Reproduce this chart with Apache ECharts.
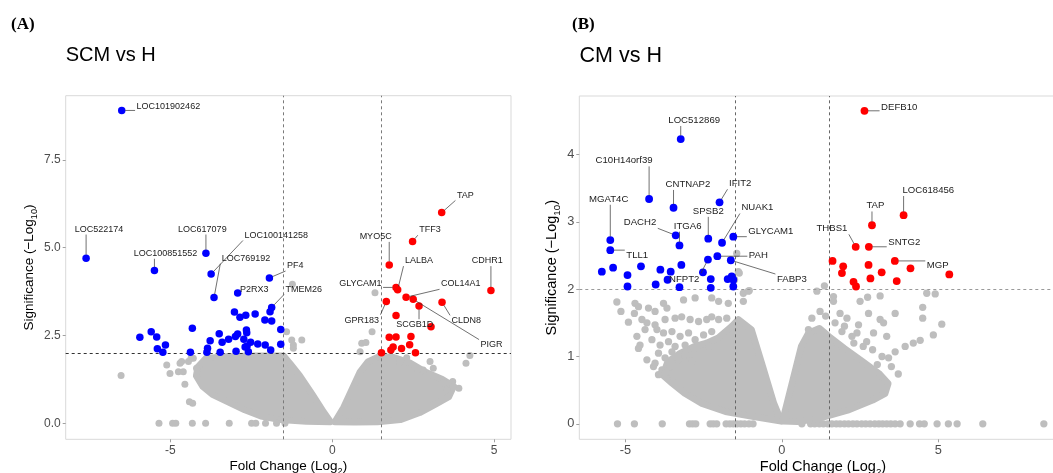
<!DOCTYPE html>
<html>
<head>
<meta charset="utf-8">
<script src="https://cdn.jsdelivr.net/npm/echarts@6/dist/echarts.min.js"></script>
<style>
  html, body { margin: 0; padding: 0; background: #fff; }
  #chart { width: 1053px; height: 473px; }
</style>
</head>
<body>
<div id="chart"></div>
<script>
// thresholds
const fcCut = 1.5;
const sigCut = 2;
const xTicks = [-5, 0, 5];
const yTicksA = [0, 2.5, 5, 7.5];
const yTicksB = [0, 1, 2, 3, 4];

// ---- panel A : SCM vs H ----
const downA = [
  [-6.50, 8.91], [-7.60, 4.70], [-5.49, 4.35], [-3.90, 4.84], [-3.74, 4.25], [-3.65, 3.58], [-1.94, 4.14],
  [-2.92, 3.71], [-1.87, 3.30], [-1.92, 3.18], [-3.02, 3.17], [-2.85, 3.02], [-2.67, 3.08], [-2.38, 3.11],
  [-2.08, 2.94], [-1.87, 2.91], [-1.59, 2.67], [-4.32, 2.71], [-5.59, 2.61], [-5.94, 2.45], [-5.42, 2.46],
  [-5.40, 2.12], [-5.15, 2.23], [-5.23, 2.02], [-4.38, 2.02], [-3.85, 2.14], [-3.77, 2.35], [-3.87, 2.02],
  [-3.49, 2.55], [-3.40, 2.31], [-3.46, 2.02], [-3.20, 2.39], [-2.99, 2.47], [-2.92, 2.54], [-2.97, 2.05],
  [-2.73, 2.39], [-2.65, 2.66], [-2.64, 2.58], [-2.52, 2.31], [-2.69, 2.17], [-2.63, 2.20], [-2.59, 2.04],
  [-2.30, 2.26], [-2.07, 2.23], [-1.90, 2.09], [-1.59, 2.25]
];
const upA = [
  [3.38, 6.00], [2.48, 5.18], [1.76, 4.51], [2.02, 3.80], [1.97, 3.87], [2.28, 3.59], [4.90, 3.78],
  [2.50, 3.53], [3.39, 3.45], [2.68, 3.34], [1.67, 3.47], [1.97, 3.07], [3.05, 2.75], [1.76, 2.45],
  [1.97, 2.46], [2.43, 2.47], [2.39, 2.24], [2.14, 2.13], [1.88, 2.17], [1.81, 2.09], [1.52, 2.01], [2.57, 2.01]
];
const greyA = [
  [-6.52, 1.36], [-5.11, 1.66], [-5.01, 1.42], [-4.70, 1.71], [-4.75, 1.47], [-4.65, 1.76], [-4.44, 1.76],
  [-4.36, 1.85], [-4.29, 1.85], [-4.60, 1.47], [-4.55, 1.11], [-4.41, 0.61], [-4.31, 0.57], [-4.19, 1.57],
  [-5.35, 0], [-4.93, 0], [-4.83, 0], [-4.32, 0], [-3.91, 0], [-3.18, 0], [-2.49, 0], [-2.36, 0], [-2.06, 0],
  [-1.72, 0], [-1.46, 0],
  [-1.41, 2.61], [-1.20, 2.23], [-1.25, 2.37], [-1.23, 3.96], [-0.94, 2.37], [-1.20, 2.14],
  [1.32, 3.72], [1.23, 2.61], [0.91, 2.28], [0.86, 2.04], [1.04, 2.30],
  [4.25, 1.93], [4.13, 1.71], [3.91, 1.00], [3.72, 1.19], [3.73, 1.04], [3.53, 0.95], [3.43, 1.14],
  [3.12, 1.57], [3.02, 1.76], [2.81, 1.52], [2.65, 1.54], [2.09, 1.73], [2.30, 1.87]
];
// outline of the dense grey cloud (dot centres)
const lobesA = [
  [[-0.05, 0.04], [-0.8, 0.05], [-1.6, 0.1], [-2.2, 0.2], [-2.7, 0.38], [-3.2, 0.6], [-3.7, 0.82], [-4.0, 1.05],
   [-4.2, 1.35], [-4.15, 1.6], [-3.9, 1.85], [-3.3, 1.9], [-2.4, 1.92], [-1.5, 1.92], [-1.3, 1.7], [-1.0, 1.35],
   [-0.6, 0.8], [-0.25, 0.3]],
  [[0.08, 0.04], [0.35, 0.45], [0.6, 0.95], [0.85, 1.45], [1.1, 1.75], [1.45, 1.9], [1.9, 1.88], [2.4, 1.72],
   [2.9, 1.45], [3.4, 1.25], [3.75, 1.05], [3.6, 0.75], [3.2, 0.55], [2.7, 0.3], [2.1, 0.1], [1.4, 0.04], [0.7, 0.03]]
];
// [gene, x, y, label x, label y]
const labelsA = [
  ['LOC101902462', -6.50, 8.91, -5.06, 9.03],
  ['LOC522174', -7.60, 4.70, -7.20, 5.53],
  ['LOC617079', -3.90, 4.84, -4.01, 5.53],
  ['LOC100141258', -3.74, 4.25, -1.73, 5.36],
  ['LOC100851552', -5.49, 4.35, -5.15, 4.84],
  ['LOC769192', -3.65, 3.58, -2.66, 4.70],
  ['PF4', -1.94, 4.14, -1.14, 4.49],
  ['P2RX3', -2.92, 3.71, -2.41, 3.80],
  ['TMEM26', -1.87, 3.30, -0.88, 3.82],
  ['TAP', 3.38, 6.00, 4.11, 6.50],
  ['TFF3', 2.48, 5.18, 3.02, 5.51],
  ['MYO5C', 1.76, 4.51, 1.34, 5.32],
  ['LALBA', 2.02, 3.80, 2.68, 4.63],
  ['CDHR1', 4.90, 3.78, 4.79, 4.63],
  ['GLYCAM1', 1.97, 3.87, 0.87, 3.99],
  ['COL14A1', 2.28, 3.59, 3.97, 3.97],
  ['GPR183', 1.67, 3.47, 0.91, 2.94],
  ['SCGB1D', 2.68, 3.34, 2.55, 2.81],
  ['CLDN8', 3.39, 3.45, 4.14, 2.92],
  ['PIGR', 2.50, 3.53, 4.92, 2.23]
];

// ---- panel B : CM vs H ----
const downB = [
  [-3.23, 4.23], [-4.24, 3.34], [-3.46, 3.21], [-1.99, 3.29], [-5.48, 2.73], [-2.35, 2.75], [-1.91, 2.69],
  [-3.39, 2.80], [-3.27, 2.65], [-1.55, 2.78], [-5.48, 2.58], [-2.06, 2.49], [-1.63, 2.43], [-2.36, 2.44],
  [-5.75, 2.26], [-5.39, 2.32], [-4.93, 2.21], [-4.93, 2.04], [-4.50, 2.34], [-4.03, 2.07], [-3.88, 2.29],
  [-3.65, 2.14], [-3.55, 2.26], [-3.21, 2.36], [-3.27, 2.03], [-2.27, 2.15], [-2.27, 2.02], [-1.73, 2.15],
  [-1.60, 2.19], [-1.55, 2.04], [-1.55, 2.14], [-2.52, 2.25]
];
const upB = [
  [2.64, 4.65], [3.89, 3.10], [2.88, 2.95], [2.36, 2.63], [2.78, 2.63], [3.61, 2.42], [1.62, 2.42],
  [1.96, 2.34], [1.92, 2.24], [2.77, 2.36], [3.19, 2.25], [4.11, 2.31], [5.35, 2.22], [2.29, 2.11],
  [2.37, 2.04], [2.83, 2.16], [3.67, 2.12]
];
const greyB = [
  [-5.27, 1.81], [-5.14, 1.67], [-4.69, 1.79], [-4.58, 1.74], [-4.71, 1.64], [-4.26, 1.72], [-4.05, 1.67],
  [-3.78, 1.79], [-3.67, 1.72], [-3.14, 1.84], [-2.77, 1.87], [-2.24, 1.87], [-2.02, 1.82], [-1.71, 1.79],
  [-1.23, 1.82], [-1.23, 1.94], [-1.07, 1.97],
  [-4.90, 1.51], [-4.47, 1.55], [-4.31, 1.50], [-4.05, 1.47], [-3.73, 1.55], [-3.41, 1.57], [-3.20, 1.59],
  [-2.93, 1.55], [-2.66, 1.52], [-2.40, 1.55], [-2.24, 1.59], [-2.02, 1.55], [-1.76, 1.57],
  [-4.63, 1.30], [-4.37, 1.40], [-3.99, 1.40], [-4.15, 1.25], [-3.78, 1.35], [-3.51, 1.37], [-3.25, 1.30],
  [-2.98, 1.35], [-2.77, 1.25], [-2.50, 1.32], [-2.24, 1.37], [-4.53, 1.17], [-3.89, 1.17], [-3.62, 1.22],
  [-3.41, 1.15], [-3.09, 1.17], [-2.82, 1.12], [-2.34, 1.15],
  [-4.58, 1.12], [-4.31, 0.95], [-4.10, 0.85], [-3.94, 1.05], [-3.73, 0.98], [-3.51, 1.07], [-3.30, 0.95],
  [-3.09, 1.03], [-3.83, 0.80], [-3.57, 0.85], [-4.05, 0.90], [-2.88, 0.93], [-3.73, 0.75], [-3.46, 0.70],
  [-3.94, 0.73],
  [-5.25, 0], [-4.71, 0], [-3.82, 0], [-2.95, 0], [-2.85, 0], [-2.75, 0], [-2.29, 0], [-2.19, 0], [-2.08, 0],
  [-1.78, 0], [-1.66, 0], [-1.55, 0], [-1.43, 0], [-1.31, 0], [-1.19, 0], [-1.05, 0], [-0.92, 0],
  [-1.44, 2.53], [-1.39, 2.26], [-1.36, 2.24], [-1.51, 2.14], [-1.04, 1.98],
  [1.12, 1.97], [1.36, 2.05], [1.65, 1.89], [1.65, 1.82], [2.50, 1.82], [2.74, 1.88], [3.14, 1.90],
  [4.63, 1.94], [4.90, 1.93], [4.50, 1.73], [4.50, 1.57], [5.11, 1.48], [4.84, 1.32], [4.42, 1.24],
  [4.20, 1.20], [3.94, 1.15], [3.62, 1.07], [3.72, 0.74], [3.41, 0.98], [3.62, 1.64], [3.14, 1.55],
  [3.25, 1.50], [1.86, 1.64], [2.08, 1.57], [2.77, 1.64], [2.45, 1.47], [2.40, 1.35], [2.24, 1.30],
  [1.92, 1.37], [2.71, 1.22], [2.93, 1.35], [3.35, 1.30], [1.22, 1.67], [0.85, 1.40], [0.96, 1.57],
  [2.90, 1.10], [3.20, 1.00], [2.60, 1.15], [3.05, 0.88], [3.50, 0.85], [2.30, 1.20], [1.70, 1.50],
  [2.00, 1.45], [1.40, 1.60],
  [0.64, 0], [0.92, 0], [1.05, 0], [1.20, 0], [1.33, 0], [1.47, 0], [1.60, 0], [1.74, 0], [1.86, 0],
  [2.00, 0], [2.13, 0], [2.27, 0], [2.40, 0], [2.55, 0], [2.68, 0], [2.82, 0], [2.97, 0], [3.10, 0],
  [3.22, 0], [3.35, 0], [3.48, 0], [3.62, 0], [3.78, 0], [4.10, 0], [4.40, 0], [4.55, 0], [4.96, 0],
  [5.32, 0], [5.60, 0], [6.42, 0], [8.37, 0]
];
const lobesB = [
  [[-0.02, 0.04], [-0.85, 0.1], [-1.8, 0.18], [-2.55, 0.3], [-3.1, 0.45], [-3.5, 0.6], [-3.8, 0.72],
   [-3.65, 0.92], [-3.25, 1.05], [-2.8, 1.15], [-2.4, 1.2], [-2.03, 1.28], [-1.6, 1.45], [-1.39, 1.55],
   [-0.97, 1.4], [-0.64, 0.9], [-0.25, 0.3]],
  [[0.02, 0.04], [0.35, 0.65], [0.62, 1.15], [0.85, 1.35], [1.2, 1.42], [1.5, 1.3], [2.0, 1.12], [2.6, 0.92],
   [3.1, 0.75], [3.4, 0.6], [3.3, 0.45], [2.9, 0.35], [2.1, 0.2], [1.2, 0.08], [0.5, 0.03]]
];
const labelsB = [
  ['LOC512869', -3.23, 4.23, -2.80, 4.51],
  ['C10H14orf39', -4.24, 3.34, -5.04, 3.91],
  ['CNTNAP2', -3.46, 3.21, -3.00, 3.56],
  ['IFIT2', -1.99, 3.29, -1.33, 3.57],
  ['MGAT4C', -5.48, 2.73, -5.53, 3.34],
  ['SPSB2', -2.35, 2.75, -2.35, 3.16],
  ['NUAK1', -1.91, 2.69, -0.78, 3.21],
  ['DACH2', -3.39, 2.80, -4.53, 2.99],
  ['ITGA6', -3.27, 2.65, -3.01, 2.94],
  ['GLYCAM1', -1.55, 2.78, -0.35, 2.86],
  ['TLL1', -5.48, 2.58, -4.62, 2.51],
  ['PAH', -2.06, 2.49, -0.75, 2.51],
  ['FABP3', -1.63, 2.43, 0.32, 2.14],
  ['NFPT2', -2.36, 2.44, -3.12, 2.15],
  ['DEFB10', 2.64, 4.65, 3.75, 4.70],
  ['LOC618456', 3.89, 3.10, 4.68, 3.47],
  ['TAP', 2.88, 2.95, 2.99, 3.24],
  ['THBS1', 2.36, 2.63, 1.60, 2.90],
  ['SNTG2', 2.78, 2.63, 3.91, 2.69],
  ['MGP', 3.61, 2.42, 4.98, 2.35]
];

const GREY = '#bebebe';
const FONT = '"Liberation Sans", Arial, sans-serif';
const measure = document.createElement('canvas').getContext('2d');
function textWidth(t, size) {
  measure.font = size + 'px ' + FONT;
  return measure.measureText(t).width;
}

function xAxis(idx, min, max, fs) {
  return {
    type: 'value', gridIndex: idx, min: min, max: max, position: 'bottom',
    axisLine: { show: false, onZero: false }, splitLine: { show: false },
    axisTick: { show: true, length: 3, customValues: xTicks, lineStyle: { color: '#a0a0a0' } },
    axisLabel: { customValues: xTicks, color: '#4d4d4d', fontSize: fs, fontFamily: FONT, margin: 5 }
  };
}
function yAxis(idx, min, max, ticks, fs, digits) {
  return {
    type: 'value', gridIndex: idx, min: min, max: max, position: 'left',
    axisLine: { show: false, onZero: false }, splitLine: { show: false },
    axisTick: { show: true, length: 3, customValues: ticks, lineStyle: { color: '#a0a0a0' } },
    axisLabel: {
      customValues: ticks, color: '#4d4d4d', fontSize: fs, fontFamily: FONT, margin: 5,
      formatter: (v) => v.toFixed(digits)
    }
  };
}

function lobeSeries(lobes, idx) {
  return {
    type: 'custom', xAxisIndex: idx, yAxisIndex: idx, z: 1, silent: true,
    data: lobes.map((l, i) => [l[0][0], l[0][1], i]),
    renderItem(params, api) {
      const lobe = lobes[api.value(2)];
      return {
        type: 'polygon',
        shape: { points: lobe.map((p) => api.coord(p)) },
        style: { fill: GREY, stroke: GREY, lineWidth: 6.6, lineJoin: 'round' }
      };
    }
  };
}

function dots(data, idx, color, size, z) {
  return {
    type: 'scatter', xAxisIndex: idx, yAxisIndex: idx, data: data, z: z, silent: true,
    symbolSize: size, itemStyle: { color: color, opacity: 1 }
  };
}

function cutLines(idx, vColor, hColor) {
  return {
    type: 'scatter', xAxisIndex: idx, yAxisIndex: idx, data: [], z: 3, silent: true,
    markLine: {
      silent: true, symbol: ['none', 'none'], label: { show: false }, animation: false, z: 3,
      lineStyle: { type: [3, 3], width: 1 },
      emphasis: { disabled: true },
      data: [
        { xAxis: -fcCut, lineStyle: { color: vColor } },
        { xAxis: fcCut, lineStyle: { color: vColor } },
        { yAxis: sigCut, lineStyle: { color: hColor } }
      ]
    }
  };
}

function labelSeries(labels, idx, size) {
  return {
    type: 'custom', xAxisIndex: idx, yAxisIndex: idx, z: 8, silent: true,
    data: labels.map((l, i) => [l[1], l[2], i]),
    renderItem(params, api) {
      const l = labels[api.value(2)];
      const p = api.coord([l[1], l[2]]);
      const c = api.coord([l[3], l[4]]);
      const hw = textWidth(l[0], size) / 2 + 1.5;
      const hh = size * 0.6;
      const qx = Math.min(Math.max(p[0], c[0] - hw), c[0] + hw);
      const qy = Math.min(Math.max(p[1], c[1] - hh), c[1] + hh);
      const dx = qx - p[0], dy = qy - p[1];
      const d = Math.hypot(dx, dy);
      const kids = [];
      if (d > 7) {
        kids.push({
          type: 'line',
          shape: { x1: p[0] + dx / d * 3.5, y1: p[1] + dy / d * 3.5, x2: qx, y2: qy },
          style: { stroke: '#333', lineWidth: 0.7 }
        });
      }
      kids.push({
        type: 'text',
        style: { text: l[0], x: c[0], y: c[1], align: 'center', verticalAlign: 'middle',
                 fill: '#222', fontSize: size, fontFamily: FONT }
      });
      return { type: 'group', children: kids };
    }
  };
}

function heading(x, y, text, size) {
  return { type: 'text', x: x, y: y, style: { text: text, fill: '#000', fontSize: size, fontFamily: FONT,
           align: 'left', verticalAlign: 'middle' } };
}
function tag(x, y, text) {
  return { type: 'text', x: x, y: y, style: { text: text, fill: '#000', fontSize: 17, fontWeight: 'bold',
           fontFamily: '"Liberation Serif", serif', align: 'left', verticalAlign: 'middle' } };
}
function axisTitle(x, y, text, size, rotate) {
  return {
    type: 'text', x: x, y: y, rotation: rotate ? Math.PI / 2 : 0,
    style: {
      text: text, fill: '#000', fontSize: size, fontFamily: FONT, align: 'center', verticalAlign: 'middle',
      lineHeight: size + 2,
      rich: { s: { fontSize: size * 0.68, fontFamily: FONT, fill: '#000', verticalAlign: 'bottom', lineHeight: size * 1.45 } }
    }
  };
}

const chart = echarts.init(document.getElementById('chart'));
chart.setOption({
  animation: false,
  backgroundColor: '#fff',
  grid: [
    { left: 65.7, top: 95.7, width: 445.3, height: 343.6, show: true, borderColor: '#d9d9d9', borderWidth: 1,
      backgroundColor: 'transparent', outerBoundsMode: 'none' },
    { left: 579.3, top: 96, width: 487.7, height: 343.3, show: true, borderColor: '#d9d9d9', borderWidth: 1,
      backgroundColor: 'transparent', outerBoundsMode: 'none' }
  ],
  xAxis: [xAxis(0, -8.23, 5.52, 12), xAxis(1, -6.47, 9.11, 12.8)],
  yAxis: [yAxis(0, -0.456, 9.33, yTicksA, 12, 1), yAxis(1, -0.23, 4.87, yTicksB, 12.8, 0)],
  graphic: [
    tag(11, 25, '(A)'),
    tag(572, 25, '(B)'),
    heading(65.7, 55, 'SCM vs H', 20),
    heading(579.5, 56, 'CM vs H', 21.5),
    axisTitle(288.3, 466, 'Fold Change (Log{s|2})', 13.5, false),
    axisTitle(823, 466.5, 'Fold Change (Log{s|2})', 14.5, false),
    axisTitle(29, 267.5, 'Significance (\u2212Log{s|10})', 13.5, true),
    axisTitle(552, 267.7, 'Significance (\u2212Log{s|10})', 14.5, true)
  ],
  series: [
    lobeSeries(lobesA, 0),
    dots(greyA, 0, GREY, 7, 2),
    cutLines(0, '#7a7a7a', '#333'),
    dots(downA, 0, '#0000ff', 7.5, 6),
    dots(upA, 0, '#ff0000', 7.5, 6),
    labelSeries(labelsA, 0, 9),
    lobeSeries(lobesB, 1),
    dots(greyB, 1, GREY, 7.3, 2),
    cutLines(1, '#666', '#9a9a9a'),
    dots(downB, 1, '#0000ff', 7.8, 6),
    dots(upB, 1, '#ff0000', 7.8, 6),
    labelSeries(labelsB, 1, 9.6)
  ]
});
</script>
</body>
</html>
